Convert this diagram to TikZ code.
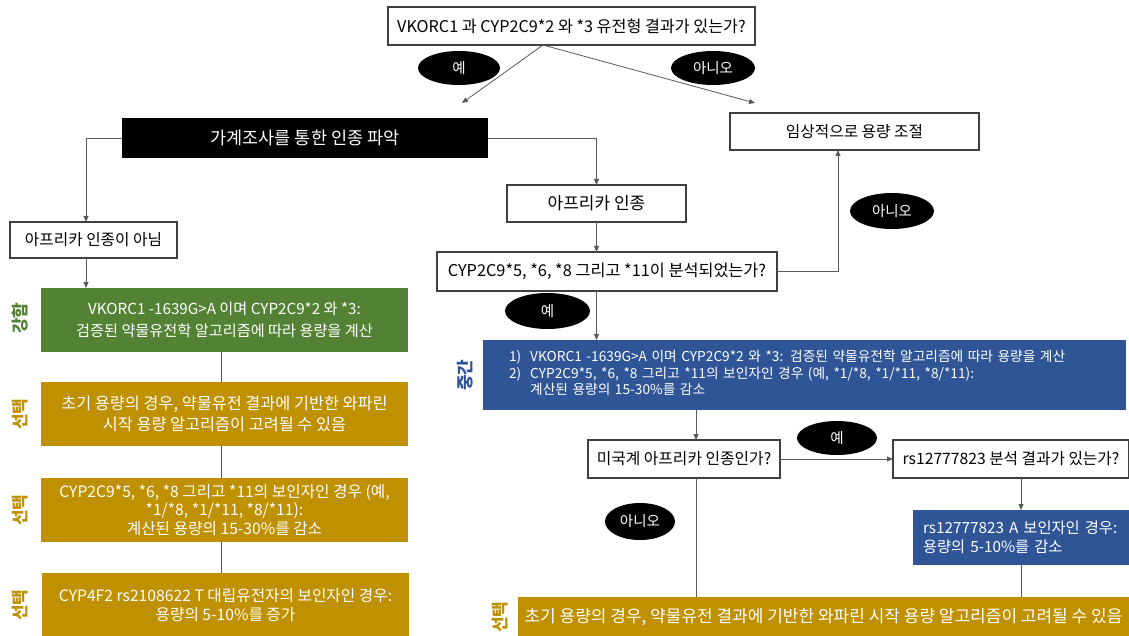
\documentclass[tikz,border=0pt]{standalone}
\usepackage{fontspec}
\setmainfont{Noto Sans CJK KR}
\usetikzlibrary{arrows.meta,shapes.geometric,calc}
\definecolor{cgreen}{HTML}{548235}
\definecolor{cgold}{HTML}{BF9000}
\definecolor{cblue}{HTML}{2F5597}
\definecolor{cline}{HTML}{595959}
\definecolor{cborder}{HTML}{404040}
\newcommand\fsz[2]{\fontsize{#1}{#2}\selectfont}
\begin{document}
\begin{tikzpicture}[x=1pt,y=-1pt,
  every node/.style={inner sep=0pt,outer sep=0pt},
  wbox/.style={draw=cborder,line width=1.2pt,fill=white,align=center},
  blackbox/.style={fill=black,text=white,align=center},
  greenbox/.style={fill=cgreen,text=white,align=center},
  goldbox/.style={fill=cgold,text=white,align=center},
  bluebox/.style={fill=cblue,text=white,align=left},
  oval/.style={ellipse,fill=black,text=white,font=\fsz{14.5}{16}},
  side/.style={rotate=90,font=\fsz{17}{17}\bfseries},
  conn/.style={draw=cline,line width=0.8pt},
  arr/.style={conn,-{Triangle[length=6pt,width=5pt]}}
]
\useasboundingbox (0,0) rectangle (1129,636);
\fill[white] (0,0) rectangle (1129,636);

% nodes
\node[wbox,font=\fsz{16.2}{19},minimum width=367pt,minimum height=38pt] (q) at (571.5,26) {VKORC1 과 CYP2C9*2 와 *3 유전형 결과가 있는가?};
\node[oval,minimum width=82pt,minimum height=34pt] (yes1) at (459,68) {예};
\node[oval,minimum width=84pt,minimum height=34pt] (no1) at (713,68) {아니오};
\node[blackbox,font=\fsz{17.5}{20},minimum width=366pt,minimum height=40pt] (fam) at (305,138) {가계조사를 통한 인종 파악};
\node[wbox,font=\fsz{15.7}{19},minimum width=249pt,minimum height=37pt] (clin) at (854.5,131.5) {임상적으로 용량 조절};
\node[wbox,font=\fsz{15.7}{19},minimum width=167pt,minimum height=36pt] (notaf) at (93.5,240) {아프리카 인종이 아님};
\node[wbox,font=\fsz{17}{19},minimum width=179pt,minimum height=37pt] (af) at (596.5,203.5) {아프리카 인종};
\node[wbox,font=\fsz{16.3}{19},minimum width=340pt,minimum height=39pt] (cyp) at (607,271.5) {CYP2C9*5, *6, *8 그리고 *11이 분석되었는가?};
\node[oval,minimum width=84pt,minimum height=36pt] (no2) at (892,211) {아니오};
\node[oval,minimum width=85pt,minimum height=36pt] (yes2) at (547.5,311) {예};

\node[greenbox,font=\fsz{15.2}{21.5},minimum width=367pt,minimum height=64pt] (green) at (224.5,320) {VKORC1 -1639G>A 이며 CYP2C9*2 와 *3:\\검증된 약물유전학 알고리즘에 따라 용량을 계산};
\node[goldbox,font=\fsz{16.3}{21},minimum width=367pt,minimum height=64pt] (gold1) at (224.5,414) {초기 용량의 경우, 약물유전 결과에 기반한 와파린\\시작 용량 알고리즘이 고려될 수 있음};
\node[goldbox,font=\fsz{15.7}{18.5},minimum width=367pt,minimum height=64pt] (gold2) at (224.5,510) {CYP2C9*5, *6, *8 그리고 *11의 보인자인 경우 (예,\\*1/*8, *1/*11, *8/*11):\\계산된 용량의 15-30\%를 감소};
\node[goldbox,font=\fsz{15.7}{18.5},minimum width=367pt,minimum height=64pt] (gold3) at (225.5,605) {CYP4F2 rs2108622 T 대립유전자의 보인자인 경우:\\용량의 5-10\%를 증가};

\node[bluebox,font=\fsz{13.7}{16.5},minimum width=643pt,minimum height=70pt,text width=591pt] (blue1) at (804.5,375) {%
\begin{tabular}{@{}l@{\hspace{9pt}}l@{}}
1) & VKORC1 -1639G>A 이며 CYP2C9*2 와 *3: 검증된 약물유전학 알고리즘에 따라 용량을 계산\\
2) & CYP2C9*5, *6, *8 그리고 *11의 보인자인 경우 (예, *1/*8, *1/*11, *8/*11):\\
 & 계산된 용량의 15-30\%를 감소
\end{tabular}};
\node[wbox,font=\fsz{15.8}{19},minimum width=192pt,minimum height=38pt] (us) at (684,459) {미국계 아프리카 인종인가?};
\node[wbox,font=\fsz{15.7}{19},minimum width=236pt,minimum height=38pt] (rs) at (1011,459) {rs12777823 분석 결과가 있는가?};
\node[oval,minimum width=80pt,minimum height=34pt] (yes3) at (837,438) {예};
\node[bluebox,font=\fsz{15.3}{19},minimum width=216pt,minimum height=55pt,text width=196pt] (blue2) at (1021,537.5) {rs12777823 A 보인자인 경우:\\용량의 5-10\%를 감소};
\node[oval,minimum width=70pt,minimum height=37pt] (no3) at (640,521.5) {아니오};
\node[goldbox,font=\fsz{17}{19},minimum width=611pt,minimum height=40pt] (gold4) at (823.5,617) {초기 용량의 경우, 약물유전 결과에 기반한 와파린 시작 용량 알고리즘이 고려될 수 있음};

% side labels
\node[side,text=cgreen] (s1) at (20,318) {강함};
\node[side,text=cgold] (s2) at (20,414) {선택};
\node[side,text=cgold] (s3) at (20,510) {선택};
\node[side,text=cgold] (s4) at (20,605) {선택};
\node[side,text=cblue] (s5) at (465,375) {중간};
\node[side,text=cgold] (s6) at (500,617) {선택};

% connectors
\coordinate (qa) at (543,45);
\coordinate (ya) at (462,103);
\coordinate (na) at (755,103);
\draw[arr] (qa) -- (ya);
\draw[arr] (qa) -- (na);
\draw[arr] (fam.west) -| ([xshift=-7.5pt]notaf.north);
\draw[arr] (fam.east) -| (af.north);
\draw[arr] (af.south) -- (af.south |- cyp.north);
\draw[arr] (cyp.east) -| ([xshift=-16.5pt]clin.south);
\draw[arr] (af.south |- cyp.south) -- (af.south |- blue1.north);
\draw[arr] ([xshift=12pt]us.north |- blue1.south) -- ([xshift=12pt]us.north);
\draw[arr] (us.east) -- (rs.west);
\draw[arr] (blue2.north |- rs.south) -- (blue2.north);
\draw[conn] (blue2.south) -- (blue2.south |- gold4.north);
\draw[conn] ([xshift=12pt]us.south) -- ([xshift=12pt]us.south |- gold4.north);
\draw[arr] ([xshift=-7.5pt]notaf.south) -- ([xshift=-7.5pt]notaf.south |- green.north);
\draw[conn] ([xshift=-3.5pt]green.south) -- ([xshift=-3.5pt]green.south |- gold1.north);
\draw[conn] ([xshift=-3.5pt]gold1.south) -- ([xshift=-3.5pt]gold1.south |- gold2.north);
\draw[conn] ([xshift=-3.5pt]gold2.south) -- ([xshift=-3.5pt]gold2.south |- gold3.north);
\end{tikzpicture}
\end{document}
